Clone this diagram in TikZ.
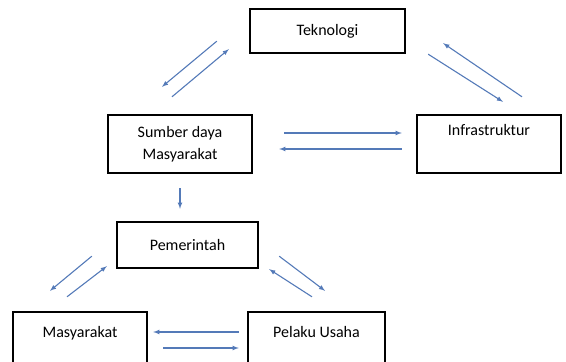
\documentclass[tikz,border=0pt]{standalone}
\usepackage{fontspec}
\setmainfont{Carlito}
\usetikzlibrary{positioning,arrows}

\definecolor{linkblue}{RGB}{84,122,184}

\begin{document}
\begin{tikzpicture}[x=1pt,y=-1pt,
										mybox/.style={draw,line width=2.4pt,rectangle,align=center,inner sep=0pt,
											font=\fontsize{16}{22}\selectfont},
										link/.style={draw=linkblue,line width=1.1pt,-latex}
										]
	\useasboundingbox (0,0) rectangle (566,362);
	\node[mybox,minimum width=155,minimum height=44] (T) at (327.5,31) {Teknologi};
	\node[mybox,minimum width=144,minimum height=58] (S) at (180,144) {Sumber daya\\Masyarakat};
	\node[mybox,minimum width=144,minimum height=58] (I) at (489,144) {Infrastruktur\\\strut};
	\node[mybox,minimum width=141,minimum height=46] (P) at (187.5,245) {Pemerintah};
	\node[mybox,minimum width=134,minimum height=54,text depth=14pt] (M) at (80,339) {Masyarakat};
	\node[mybox,minimum width=137,minimum height=54,text depth=14pt] (U) at (316.5,339) {Pelaku Usaha};

	\path ([shift={(-32,-13)}]T.south west) edge[link] ([shift={(-18,-27)}]S.north)
	([shift={(-8,-17)}]S.north) edge[link] ([shift={(-20,-5)}]T.south west)
	([shift={(22,0)}]T.south east) edge[link] ([shift={(14,-12)}]I.north)
	([shift={(33,-17)}]I.north) edge[link] ([shift={(37,-11)}]T.south east)
	([shift={(31,-11)}]S.east) edge[link] ([shift={(-14,-11)}]I.west)
	([shift={(-14,5)}]I.west) edge[link] ([shift={(26,5)}]S.east)

	([shift={(0,14)}]S.south) edge[link] ([shift={(0,-12)}]S.south |- P.north)

	([shift={(-24,-13)}]P.south west) edge[link] ([shift={(-30,-20)}]M.north)
	([shift={(-13,-14)}]M.north) edge[link] ([shift={(-9,-3)}]P.south west)
	([shift={(20,-13)}]P.south east) edge[link] ([shift={(8.5,-20)}]U.north)
	([shift={(-4.5,-14)}]U.north) edge[link] ([shift={(10,0)}]P.south east)
	([shift={(-8,-7)}]U.west) edge[link] ([shift={(5,-7)}]M.east)
	([shift={(15,9)}]M.east) edge[link] ([shift={(-8,9)}]U.west);
\end{tikzpicture}
\end{document}
